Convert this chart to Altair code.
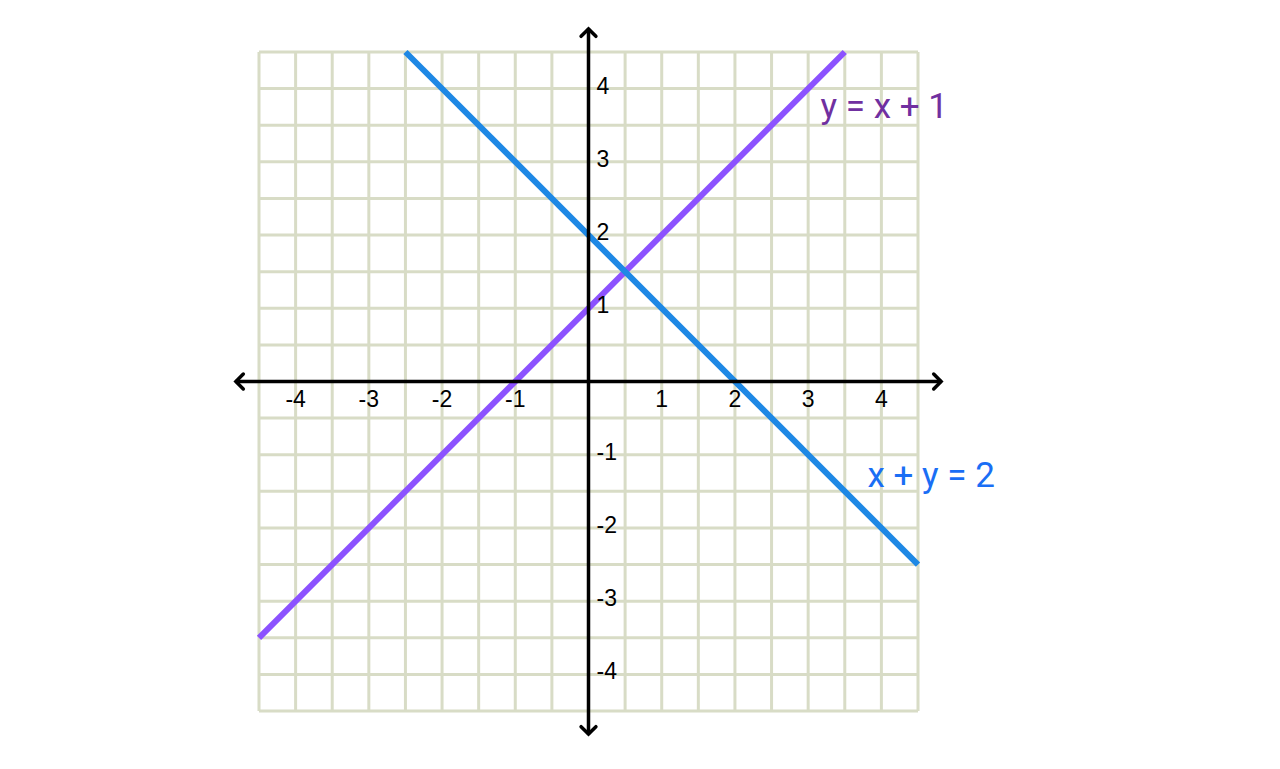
import altair as alt
import pandas as pd

# grid / ticks
grid_vals = [v / 2 for v in range(-9, 10)]
x_tick_labels = [-4, -3, -2, -1, 1, 2, 3, 4]
y_tick_labels = [4, 3, 2, 1, -1, -2, -3, -4]

# lines: endpoints
purple_x = [-4.5, 3.5]
purple_y = [-3.5, 4.5]
blue_x = [-2.5, 4.5]
blue_y = [4.5, -2.5]

eq_labels = ["y = x + 1", "x + y = 2"]
eq_x = [3.17, 3.81]
eq_y = [3.75, -1.29]
eq_colors = ["#7030a0", "#1a6ef5"]

axis_ext = 4.82
arrow_pos = 4.77

W = 659
H = 659
xs = alt.Scale(domain=[-4.5, 4.5], nice=False, zero=False)
ys = alt.Scale(domain=[-4.5, 4.5], nice=False, zero=False)

gv_df = pd.DataFrame({"v": grid_vals, "lo": [-4.5] * len(grid_vals), "hi": [4.5] * len(grid_vals)})
grid_v = alt.Chart(gv_df).mark_rule(color="#d8dcc6", strokeWidth=3).encode(
    x=alt.X("v:Q", scale=xs, axis=None),
    y=alt.Y("lo:Q", scale=ys, axis=None), y2="hi:Q")
grid_h = alt.Chart(gv_df).mark_rule(color="#d8dcc6", strokeWidth=3).encode(
    y=alt.Y("v:Q", scale=ys, axis=None),
    x=alt.X("lo:Q", scale=xs, axis=None), x2="hi:Q")

lines_df = pd.DataFrame({
    "x": purple_x + blue_x,
    "y": purple_y + blue_y,
    "s": ["purple", "purple", "blue", "blue"],
})
lines = alt.Chart(lines_df).mark_line(strokeWidth=6, strokeCap="butt").encode(
    x=alt.X("x:Q", scale=xs, axis=None),
    y=alt.Y("y:Q", scale=ys, axis=None),
    detail="s:N",
    color=alt.Color("s:N", scale=alt.Scale(domain=["purple", "blue"], range=["#8c52ff", "#1e88e5"]), legend=None),
)

# axes lines
hx = pd.DataFrame({"x": [-axis_ext], "x2": [axis_ext], "y": [0.0]})
haxis = alt.Chart(hx).mark_rule(color="black", strokeWidth=3.5).encode(
    x=alt.X("x:Q", scale=xs, axis=None), x2="x2:Q", y=alt.Y("y:Q", scale=ys, axis=None))
vy = pd.DataFrame({"y": [-axis_ext], "y2": [axis_ext], "x": [0.0]})
vaxis = alt.Chart(vy).mark_rule(color="black", strokeWidth=3.5).encode(
    y=alt.Y("y:Q", scale=ys, axis=None), y2="y2:Q", x=alt.X("x:Q", scale=xs, axis=None))

arrow_df = pd.DataFrame({
    "x": [0.0, arrow_pos, 0.0, -arrow_pos],
    "y": [arrow_pos, 0.0, -arrow_pos, 0.0],
    "ang": [0, 90, 180, 270],
})
arrows = alt.Chart(arrow_df).mark_point(
    shape="M-1,0.55L0,-0.45L1,0.55", filled=False, stroke="black", strokeWidth=3.5,
    size=220, opacity=1, strokeCap="round", strokeJoin="miter"
).encode(
    x=alt.X("x:Q", scale=xs, axis=None), y=alt.Y("y:Q", scale=ys, axis=None),
    angle=alt.Angle("ang:Q", scale=None),
)

xl_df = pd.DataFrame({"x": x_tick_labels, "y": [0.0] * len(x_tick_labels),
                      "t": [str(v) for v in x_tick_labels]})
xlabels = alt.Chart(xl_df).mark_text(font="Liberation Sans", fontSize=23, dy=18, color="black").encode(
    x=alt.X("x:Q", scale=xs, axis=None), y=alt.Y("y:Q", scale=ys, axis=None), text="t:N")

yl_df = pd.DataFrame({"y": y_tick_labels, "x": [0.0] * len(y_tick_labels),
                      "t": [str(v) for v in y_tick_labels]})
ylabels = alt.Chart(yl_df).mark_text(font="Liberation Sans", fontSize=23, dx=8, dy=-2, align="left",
                                      baseline="middle", color="black").encode(
    x=alt.X("x:Q", scale=xs, axis=None), y=alt.Y("y:Q", scale=ys, axis=None), text="t:N")

eq_df = pd.DataFrame({"x": eq_x, "y": eq_y, "t": eq_labels, "c": eq_colors})
eqs = alt.Chart(eq_df).mark_text(font="Roboto", fontSize=35, align="left", baseline="middle").encode(
    x=alt.X("x:Q", scale=xs, axis=None), y=alt.Y("y:Q", scale=ys, axis=None), text="t:N",
    color=alt.Color("c:N", scale=None))

chart = alt.layer(grid_v, grid_h, lines, haxis, vaxis, arrows, xlabels, ylabels, eqs).properties(
    width=W, height=H,
    autosize=alt.AutoSizeParams(type="none"),
    padding={"left": 251, "top": 44, "right": 300, "bottom": 50},
).configure_view(stroke=None)

chart.save("out.html", embed_options={"renderer": "svg", "actions": False})
